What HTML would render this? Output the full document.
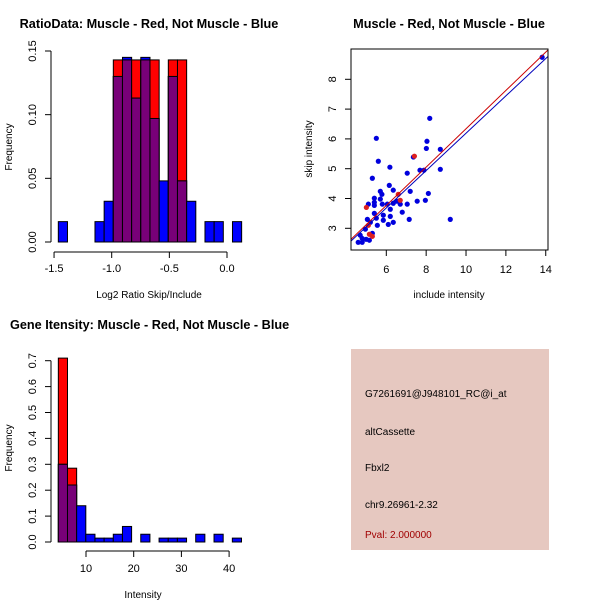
<!DOCTYPE html>
<html><head><meta charset="utf-8"><style>
body{margin:0;background:#fff;}
svg{display:block;font-family:"Liberation Sans",sans-serif;}
</style></head><body>
<svg id="c" width="600" height="600"></svg>
<script>
// ---------- Panel 1 data: ratio histogram ----------
const ratioBinStart = -1.463;
const ratioBinWidth = 0.0795;
const ratioBlue = [0.016,0,0,0,0.016,0.032,0.13,0.145,0.113,0.145,0.097,0.048,0.13,0.048,0.032,0,0.016,0.016,0,0.016];
const ratioRed  = [0,0,0,0,0,0,0.143,0.143,0.143,0.143,0.143,0,0.143,0.143,0,0,0,0,0,0];
const ratioXTicks = [-1.5,-1.0,-0.5,0.0];
const ratioXTickLabels = ["-1.5","-1.0","-0.5","0.0"];
const ratioYTicks = [0,0.05,0.10,0.15];
const ratioYTickLabels = ["0.00","0.05","0.10","0.15"];
// ---------- Panel 2 data: scatter ----------
const blueX = [5.50,5.60,5.30,6.18,8.18,8.04,8.01,8.71,8.71,7.36,7.05,7.69,7.89,6.15,5.70,5.78,6.35,7.20,8.11,5.40,5.70,5.40,5.40,5.80,6.05,6.35,6.60,6.70,7.05,7.55,7.96,5.10,5.40,5.85,6.20,6.20,6.80,7.15,9.21,5.50,5.85,6.10,6.35,5.55,5.05,5.20,4.95,5.30,4.69,4.79,4.99,5.15,4.59,4.79,13.82,6.52];
const blueY = [6.02,5.25,4.68,5.05,6.69,5.92,5.68,5.65,4.98,5.39,4.85,4.95,4.95,4.44,4.24,4.14,4.28,4.24,4.17,4.01,3.98,3.87,3.77,3.81,3.81,3.84,3.91,3.81,3.81,3.91,3.94,3.81,3.50,3.44,3.64,3.40,3.54,3.30,3.30,3.34,3.27,3.13,3.20,3.10,3.30,3.20,2.97,2.83,2.77,2.66,2.63,2.60,2.53,2.53,8.74,3.91];
const redX = [5.00,5.10,5.15,5.30,6.60,6.70,7.41];
const redY = [3.70,3.10,2.80,2.73,4.14,3.94,5.42];
const fitSlope = [0.643,0.627];      // red, blue
const fitIntercept = [-0.09,-0.08];
const fitColor = ["#cc0000","#0000bb"];
const scatXTicks = [6,8,10,12,14];
const scatXTickLabels = ["6","8","10","12","14"];
const scatYTicks = [3,4,5,6,7,8];
const scatYTickLabels = ["3","4","5","6","7","8"];
// ---------- Panel 3 data: intensity histogram ----------
const intBinStart = 4.2;
const intBinWidth = 1.92;
const intBlue = [0.30,0.22,0.14,0.03,0.015,0.015,0.03,0.06,0,0.03,0,0.015,0.015,0.015,0,0.03,0,0.03,0,0.015];
const intRed  = [0.71,0.285,0,0,0,0,0,0,0,0,0,0,0,0,0,0,0,0,0,0];
const intXTicks = [10,20,30,40];
const intXTickLabels = ["10","20","30","40"];
const intYTicks = [0,0.1,0.2,0.3,0.4,0.5,0.6,0.7];
const intYTickLabels = ["0.0","0.1","0.2","0.3","0.4","0.5","0.6","0.7"];

const svg = document.getElementById('c');
const NS = 'http://www.w3.org/2000/svg';
function mk(tag, attrs, parent, text){
  const e = document.createElementNS(NS, tag);
  for (const k in attrs) e.setAttribute(k, attrs[k]);
  if (text !== undefined) e.textContent = text;
  (parent || svg).appendChild(e);
  return e;
}
function txt(x,y,s,size,opts,name){
  const e = mk('text', Object.assign({x:x,y:y,'font-size':size,'text-anchor':'middle',fill:'#000'},opts||{}), svg, s);
  
  
  return e;
}
function ln(x1,y1,x2,y2,name,col,w){
  const e = mk('line',{x1:x1,y1:y1,x2:x2,y2:y2,stroke:col||'#000','stroke-width':w||1});
  
  
  return e;
}
function vtxt(x,y,s,size,name){
  return txt(x,y,s,size,{transform:'rotate(-90 '+x+' '+y+')'},name);
}
function hist(xs, ys, start, width, blue, red, yAxisX, axisY, prefix){
  for (let i=0;i<blue.length;i++){
    const x0 = xs(start+i*width), x1 = xs(start+(i+1)*width);
    const b = blue[i], r = red[i];
    const draw = (v,col,nm)=>{
      if (v<=0) return;
      const e = mk('rect',{x:x0,y:ys(v),width:x1-x0,height:ys(0)-ys(v),fill:col,stroke:'#000','stroke-width':1});
      
      
    };
    draw(r,'#ff0000',prefix+'-red-bar');
    draw(b,'#0000ff',prefix+'-blue-bar');
    draw(Math.min(b,r),'#780078',prefix+'-overlap-bar');
  }
}

// ===== Panel 1 =====
{
  const xs = v => 227 + v*115.3;
  const ys = v => 242 - v*(191/0.15);
  hist(xs, ys, ratioBinStart, ratioBinWidth, ratioBlue, ratioRed, 51, 252, 'ratio');
  ln(51, ys(0), 51, ys(0.15), 'ratio-y-axis');
  ratioYTicks.forEach((t,i)=>{ ln(45, ys(t), 51, ys(t), 'ratio-y-tick'); vtxt(36, ys(t), ratioYTickLabels[i], 11, 'ratio-y-tick-label'); });
  ln(xs(-1.5), 252, xs(0), 252, 'ratio-x-axis');
  ratioXTicks.forEach((t,i)=>{ ln(xs(t), 252, xs(t), 258, 'ratio-x-tick'); txt(xs(t), 272, ratioXTickLabels[i], 11, {}, 'ratio-x-tick-label'); });
  txt(149, 28, 'RatioData: Muscle - Red, Not Muscle - Blue', 12.7, {'font-weight':'bold'}, 'ratio-title');
  txt(149, 298, 'Log2 Ratio Skip/Include', 10, {}, 'ratio-x-axis-title');
  vtxt(12, 147, 'Frequency', 10, 'ratio-y-axis-title');
}
// ===== Panel 2 =====
{
  const xs = v => 386.3 + (v-6)*19.93;
  const ys = v => 228.3 - (v-3)*29.8;
  const clip = mk('clipPath',{id:'sc'}); mk('rect',{x:351,y:49,width:197,height:201},clip);
  const g = mk('g',{'clip-path':'url(#sc)'});
  
  
  for (let i=0;i<blueX.length;i++){
    const p = mk('circle',{cx:xs(blueX[i]),cy:ys(blueY[i]),r:2.6,fill:'#0000dd'},g);
    
    
  }
  for (let i=0;i<redX.length;i++){
    const p = mk('circle',{cx:xs(redX[i]),cy:ys(redY[i]),r:2.6,fill:'#dd2020'},g);
    
    
  }
  for (let k=0;k<fitSlope.length;k++){
    const xa=4, xb=14.5;
    const l = mk('line',{x1:xs(xa),y1:ys(fitIntercept[k]+fitSlope[k]*xa),x2:xs(xb),y2:ys(fitIntercept[k]+fitSlope[k]*xb),stroke:fitColor[k],'stroke-width':1},g);
    
    
  }
  const box = mk('rect',{x:351,y:49,width:197,height:201,fill:'none',stroke:'#000','stroke-width':1});
  
  
  scatXTicks.forEach((t,i)=>{ ln(xs(t),250,xs(t),256,'scatter-x-tick'); txt(xs(t),273,scatXTickLabels[i],11,{},'scatter-x-tick-label'); });
  scatYTicks.forEach((t,i)=>{ ln(345,ys(t),351,ys(t),'scatter-y-tick'); vtxt(336,ys(t),scatYTickLabels[i],11,'scatter-y-tick-label'); });
  txt(449, 28, 'Muscle - Red, Not Muscle - Blue', 12.7, {'font-weight':'bold'}, 'scatter-title');
  txt(449, 298, 'include intensity', 10, {}, 'scatter-x-axis-title');
  vtxt(312, 149, 'skip intensity', 10, 'scatter-y-axis-title');
}
// ===== Panel 3 =====
{
  const xs = v => 38.3 + v*4.77;
  const ys = v => 542 - v*(181.3/0.7);
  hist(xs, ys, intBinStart, intBinWidth, intBlue, intRed, 51, 551, 'intensity');
  ln(51, ys(0), 51, ys(0.7), 'intensity-y-axis');
  intYTicks.forEach((t,i)=>{ ln(45, ys(t), 51, ys(t), 'intensity-y-tick'); vtxt(36, ys(t), intYTickLabels[i], 11, 'intensity-y-tick-label'); });
  ln(xs(10), 551, xs(40), 551, 'intensity-x-axis');
  intXTicks.forEach((t,i)=>{ ln(xs(t), 551, xs(t), 557, 'intensity-x-tick'); txt(xs(t), 572, intXTickLabels[i], 11, {}, 'intensity-x-tick-label'); });
  txt(10, 329, 'Gene Itensity: Muscle - Red, Not Muscle - Blue', 12.7, {'font-weight':'bold','text-anchor':'start'}, 'intensity-title');
  txt(143, 598, 'Intensity', 10, {}, 'intensity-x-axis-title');
  vtxt(12, 448, 'Frequency', 10, 'intensity-y-axis-title');
}
// ===== Panel 4 =====
{
  const r = mk('rect',{x:351,y:349,width:198,height:201,fill:'#e6c8c0'});
  
  
  const o = {'text-anchor':'start'};
  txt(365,397,'G7261691@J948101_RC@i_at',10,o,'probe-id');
  txt(365,435,'altCassette',10,o,'event-type');
  txt(365,471,'Fbxl2',10,o,'gene-name');
  txt(365,508,'chr9.26961-2.32',10,o,'location');
  txt(365,538,'Pval: 2.000000',10,{'text-anchor':'start',fill:'#a00000'},'p-value');
}
</script>
</body></html>
